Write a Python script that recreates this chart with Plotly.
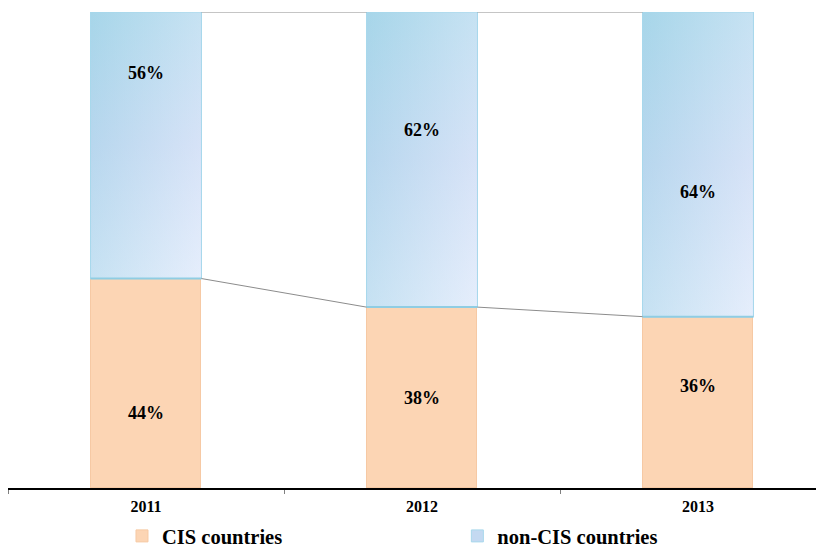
import plotly.graph_objects as go

# data
years = ['2011', '2012', '2013']
cis = [44, 38, 36]
non_cis = [56, 62, 64]

# label placement (percent of bar stack) – hand placed like the source
cis_label_y = [15.8, 18.9, 21.4]
non_cis_label_y = [87.2, 75.2, 62.2]

C_CIS = '#FCD5B4'
C_CIS_LINE = '#F6C9A4'
C_NON = '#C4D9F1'
C_NON_LINE = '#A8D8EC'
C_CONN = '#8C8C8C'
FONT = 'Liberation Serif'

BAR_W = 0.402
pos = list(range(len(years)))

fig = go.Figure()

fig.add_trace(go.Bar(
    x=pos, y=cis, name='CIS countries', width=BAR_W,
    marker=dict(color=C_CIS, line=dict(color=C_CIS_LINE, width=1)),
    legend='legend', hoverinfo='skip',
))
fig.add_trace(go.Bar(
    x=pos, y=non_cis, name='non-CIS countries', width=BAR_W,
    marker=dict(color=C_NON, line=dict(color=C_NON_LINE, width=1)),
    legend='legend2', hoverinfo='skip',
))

# gradient overlay on the non-CIS segments (vertical + soft horizontal)
hw = BAR_W / 2
for i, (c, n) in enumerate(zip(cis, non_cis)):
    x0, x1 = pos[i] - hw, pos[i] + hw
    y0, y1 = c, c + n
    fig.add_trace(go.Scatter(
        x=[x0, x1, x1, x0, x0], y=[y0, y0, y1, y1, y0],
        mode='lines', fill='toself',
        line=dict(color=C_NON_LINE, width=1),
        fillgradient=dict(type='vertical', colorscale=[
            [0, '#E0EAFA'], [0.5, '#C9D9F3'], [1, '#B0D8EC']]),
        showlegend=False, hoverinfo='skip',
    ))
    fig.add_trace(go.Scatter(
        x=[x0, x1, x1, x0, x0], y=[y0, y0, y1, y1, y0],
        mode='lines', fill='toself',
        line=dict(color=C_NON_LINE, width=1),
        fillgradient=dict(type='horizontal', colorscale=[
            [0, 'rgba(150,210,228,0.35)'], [1, 'rgba(240,245,255,0.35)']]),
        showlegend=False, hoverinfo='skip',
    ))
    # darker seam where the segments meet
    fig.add_trace(go.Scatter(
        x=[x0, x1], y=[y0, y0], mode='lines',
        line=dict(color='#8FCDE3', width=2),
        showlegend=False, hoverinfo='skip',
    ))

# series lines between bars
for i in range(len(years) - 1):
    xa, xb = pos[i] + hw, pos[i + 1] - hw
    for ya, yb in [(cis[i], cis[i + 1]),
                   (cis[i] + non_cis[i], cis[i + 1] + non_cis[i + 1])]:
        fig.add_trace(go.Scatter(
            x=[xa, xb], y=[ya, yb], mode='lines',
            line=dict(color=C_CONN, width=1),
            showlegend=False, hoverinfo='skip',
        ))

# value labels
lbl_font = dict(family=FONT, size=18, color='black', weight='bold')
for i in range(len(years)):
    fig.add_annotation(x=pos[i], y=cis_label_y[i], text=f'{cis[i]}%',
                       showarrow=False, font=lbl_font)
    fig.add_annotation(x=pos[i], y=non_cis_label_y[i], text=f'{non_cis[i]}%',
                       showarrow=False, font=lbl_font)

# page has an 8px body margin, so the figure is 816x540
leg_font = dict(family=FONT, size=20.5, color='black', weight='bold')
fig.update_layout(
    width=816, height=540,
    barmode='stack',
    paper_bgcolor='white', plot_bgcolor='white',
    margin=dict(l=0, r=0, t=4, b=60, autoexpand=False),
    bargap=0,
    legend=dict(orientation='h', x=0.1397, y=-0.101, xanchor='left', yanchor='middle',
                font=leg_font, bgcolor='rgba(0,0,0,0)'),
    legend2=dict(orientation='h', x=0.5507, y=-0.101, xanchor='left', yanchor='middle',
                 font=leg_font, bgcolor='rgba(0,0,0,0)'),
)
fig.update_xaxes(
    range=[-0.5, -0.5 + 816 / 276],
    tickmode='array', tickvals=pos, ticktext=years, ticks='',
    tickfont=dict(family=FONT, size=16, color='black', weight='bold'),
    ticklabelstandoff=3,
    showline=True, linecolor='black', linewidth=1.5,
    showgrid=False, zeroline=False,
    minor=dict(tickmode='array', tickvals=[p - 0.5 for p in pos],
               ticks='outside', ticklen=4, tickcolor='#808080', tickwidth=1),
)
fig.update_yaxes(range=[0, 100], visible=False, showgrid=False, zeroline=False)

fig.write_html('out.html')
